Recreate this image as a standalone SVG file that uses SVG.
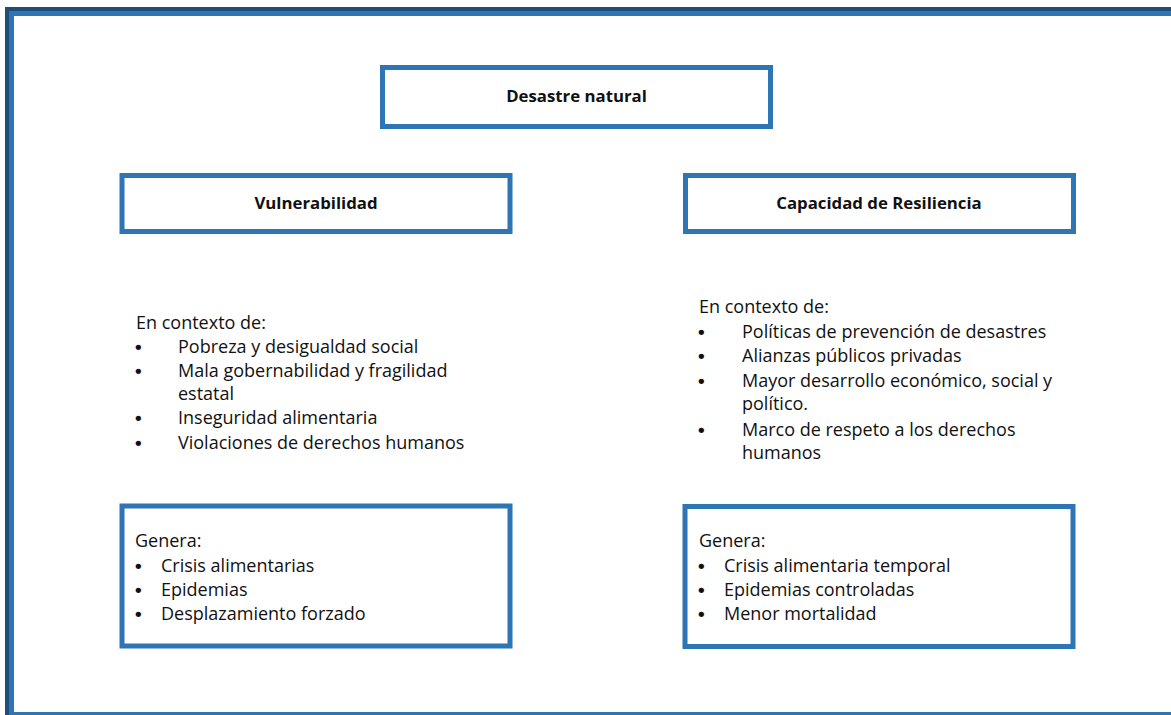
<svg xmlns="http://www.w3.org/2000/svg" width="1171" height="715" viewBox="0 0 1171 715">
<style>
.box{fill:#fff;stroke:#2E75B6;stroke-width:5}
.t{font-family:"Open Sans","Liberation Sans",sans-serif;font-size:18px;fill:#111}
.d{font-family:"Liberation Sans",sans-serif;font-size:19px;font-weight:bold;fill:#111}
.b{font-family:"Open Sans","Liberation Sans",sans-serif;font-size:16.8px;font-weight:bold;fill:#111;text-anchor:middle}
</style>
<rect width="1171" height="715" fill="#fff"/>
<g id="frame">
<path d="M7,715 V9 H1171" fill="none" stroke="#1F4E79" stroke-width="4"/>
<path d="M11.5,715 V13.5 H1171" fill="none" stroke="#2E75B6" stroke-width="5"/>
<line x1="9" y1="713.5" x2="1171" y2="713.5" stroke="#2E75B6" stroke-width="3"/>
</g>
<g id="connectors"></g>
<g id="desastre">
<rect class="box" x="382.5" y="67.5" width="388" height="59"/>
<text class="b" x="576.5" y="102">Desastre natural</text>
</g>
<g id="vulnerabilidad">
<rect class="box" x="122" y="175.5" width="388" height="56"/>
<text class="b" x="316" y="209">Vulnerabilidad</text>
</g>
<g id="resiliencia">
<rect class="box" x="685.5" y="175.5" width="388" height="56"/>
<text class="b" x="879" y="209">Capacidad de Resiliencia</text>
</g>
<g id="contexto-vulnerabilidad" class="t">
<text x="136" y="329">En contexto de:</text>
<text class="d" x="135" y="353">•</text><text x="178" y="353">Pobreza y desigualdad social</text>
<text class="d" x="135" y="377">•</text><text x="178" y="377">Mala gobernabilidad y fragilidad</text>
<text x="178" y="400">estatal</text>
<text class="d" x="135" y="424">•</text><text x="178" y="424">Inseguridad alimentaria</text>
<text class="d" x="135" y="449">•</text><text x="178" y="449">Violaciones de derechos humanos</text>
</g>
<g id="contexto-resiliencia" class="t">
<text x="699" y="313">En contexto de:</text>
<text class="d" x="698" y="338">•</text><text x="742" y="338">Políticas de prevención de desastres</text>
<text class="d" x="698" y="362">•</text><text x="742" y="362">Alianzas públicos privadas</text>
<text class="d" x="698" y="387">•</text><text x="742" y="387">Mayor desarrollo económico, social y</text>
<text x="742" y="410">político.</text>
<text class="d" x="698" y="436">•</text><text x="742" y="436">Marco de respeto a los derechos</text>
<text x="742" y="459">humanos</text>
</g>
<g id="genera-vulnerabilidad">
<rect class="box" x="122" y="506" width="388" height="140"/>
<g class="t">
<text x="135" y="547">Genera:</text>
<text class="d" x="135" y="572">•</text><text x="161" y="572">Crisis alimentarias</text>
<text class="d" x="135" y="596">•</text><text x="161" y="596">Epidemias</text>
<text class="d" x="135" y="620">•</text><text x="161" y="620">Desplazamiento forzado</text>
</g>
</g>
<g id="genera-resiliencia">
<rect class="box" x="685" y="506.5" width="388" height="140"/>
<g class="t">
<text x="699" y="547">Genera:</text>
<text class="d" x="698" y="572">•</text><text x="724" y="572">Crisis alimentaria temporal</text>
<text class="d" x="698" y="596">•</text><text x="724" y="596">Epidemias controladas</text>
<text class="d" x="698" y="620">•</text><text x="724" y="620">Menor mortalidad</text>
</g>
</g>
</svg>
